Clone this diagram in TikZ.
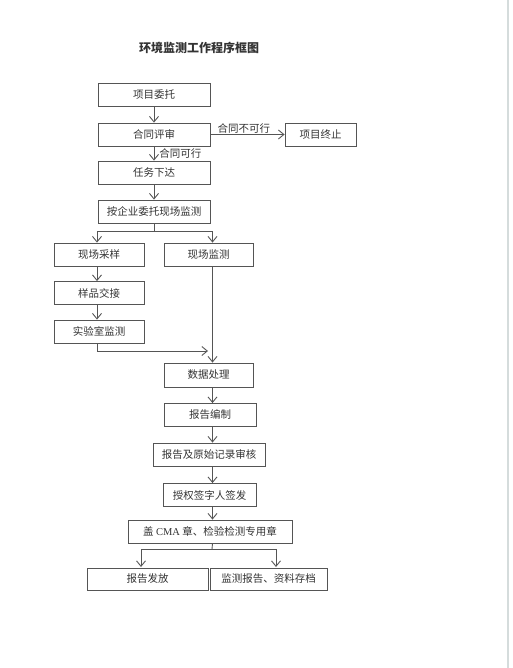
\documentclass[tikz,border=0pt]{standalone}
\usepackage{fontspec}
\setmainfont{Liberation Serif}
\newfontfamily\cjk{Noto Sans CJK SC}
\usepackage{xcolor}
\usepackage{tikz}
\usetikzlibrary{arrows.meta, positioning}
\definecolor{Ink}{HTML}{333333}
\definecolor{Frame}{HTML}{555555}
\definecolor{ScanEdge}{HTML}{D5DCDC}
\tikzset{
  box/.style={draw=Frame, line width=0.8pt, minimum height=23pt, inner sep=0pt, text=Ink, font=\cjk\fontsize{10.5}{12}\selectfont},
  flow/.style={-{Straight Barb[length=5.5pt, width=9pt]}, line width=0.9pt, color=Frame},
  link/.style={line width=0.9pt, color=Frame},
  label/.style={text=Ink, inner sep=1pt, font=\cjk\fontsize{10.5}{12}\selectfont},
  heading/.style={text=Ink, font=\cjk\bfseries\fontsize{12}{14}\selectfont},
}

\begin{document}
\begin{tikzpicture}[x=1pt, y=-1pt]
  \useasboundingbox (0,0) rectangle (513,668);
  % Scan edge
  \draw[ScanEdge, line width=1.6pt] (508,0) -- (508,668);

  % Title
  \node[heading] (title) at (199,48) {环境监测工作程序框图};

  % Spines
  \coordinate (mx) at (154,0);
  \coordinate (lx) at (97,0);
  \coordinate (sx) at (212.5,0);

  % Contract stage
  \node[box, minimum width=112pt] (entrust) at (154,94.5) {项目委托};
  \node[box, minimum width=112pt] (review) at (154,134.5) {合同评审};
  \node[box, minimum width=71pt] (stop) at (320.5,134.5) {项目终止};
  \node[box, minimum width=112pt] (task) at (154,172.5) {任务下达};
  \node[box, minimum width=112pt] (onsite) at (154,211.5) {按企业委托现场监测};

  \draw[flow] (entrust) -- (review);
  \draw[flow] (review.east) -- (stop.west) node[label, above, pos=0.45] {合同不可行};
  \draw[flow] (review) -- (task) node[label, right, midway, xshift=4pt] {合同可行};
  \draw[flow] (task) -- (onsite);

  % Sampling and field monitoring
  \node[box, minimum width=90pt] (sampling) at (99,254.5) {现场采样};
  \node[box, minimum width=89pt] (field) at (208.5,254.5) {现场监测};
  \node[box, minimum width=90pt] (handover) at (99,293) {样品交接};
  \node[box, minimum width=90pt] (lab) at (99,331.5) {实验室监测};

  \coordinate (split) at (154,231);
  \draw[link] (onsite) -- (split);
  \draw[flow] (split) -| (sampling.north -| lx);
  \draw[flow] (split) -| (field.north -| sx);
  \draw[flow] (sampling.south -| lx) -- (handover.north -| lx);
  \draw[flow] (handover.south -| lx) -- (lab.north -| lx);

  % Data and report
  \node[box, minimum width=89pt, minimum height=24pt] (data) at (208.5,375) {数据处理};
  \node[box, minimum width=92pt] (draft) at (210,415) {报告编制};
  \node[box, minimum width=112pt] (check) at (209,454.5) {报告及原始记录审核};
  \node[box, minimum width=93pt] (sign) at (209.5,495) {授权签字人签发};
  \node[box, minimum width=164pt] (seal) at (210,531.5) {盖 \textrm{CMA} 章、检验检测专用章};

  \coordinate (join) at (97,351);
  \draw[flow] (lab.south -| lx) -- (join) -- (208,351);
  \draw[flow] (field.south -| sx) -- (data.north -| sx);
  \draw[flow] (data.south -| sx) -- (draft.north -| sx);
  \draw[flow] (draft.south -| sx) -- (check.north -| sx);
  \draw[flow] (check.south -| sx) -- (sign.north -| sx);
  \draw[flow] (sign.south -| sx) -- (seal.north -| sx);

  % Issue and archive
  \node[box, minimum width=121pt, minimum height=22pt] (issue) at (147.5,579) {报告发放};
  \node[box, minimum width=117pt, minimum height=22pt] (archive) at (268.5,579) {监测报告、资料存档};

  \coordinate (fork) at (212,549);
  \draw[link] (seal.south -| sx) -- (fork);
  \draw[flow] (fork) -| (141,567);
  \draw[flow] (fork) -| (276,567);
\end{tikzpicture}
\end{document}
